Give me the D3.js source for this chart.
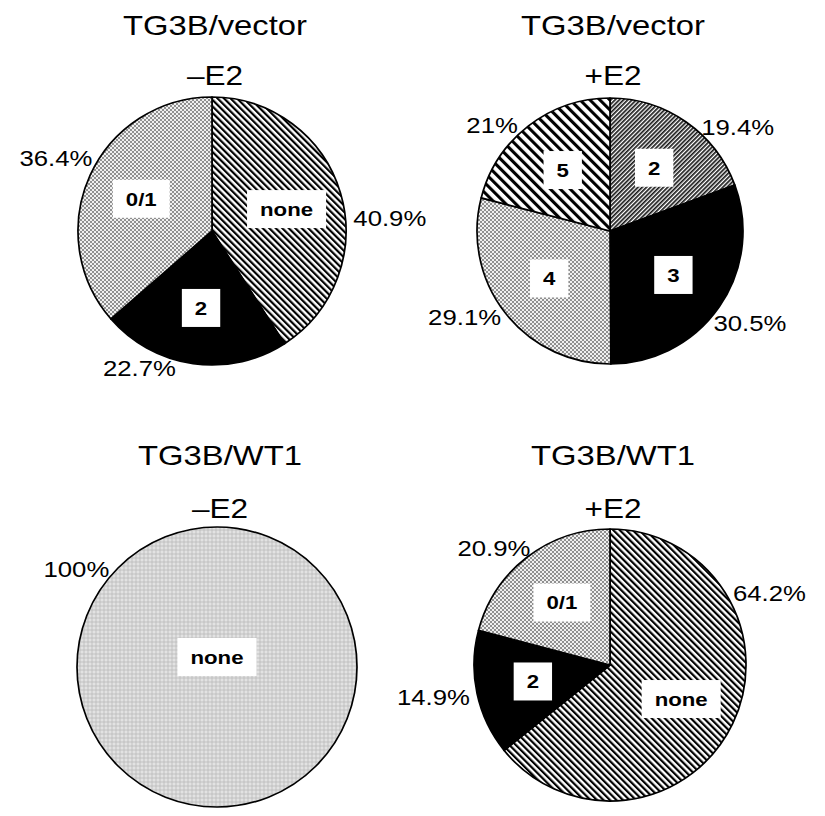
<!DOCTYPE html>
<html lang="en">
<head>
    <meta charset="UTF-8">
    <title>TG3B pie charts</title>
    <script src="https://d3js.org/d3.v7.min.js"></script>
    <style>
        body { margin: 0; background: #fff; font-family: Arial, "Liberation Sans", sans-serif; }
        svg { display: block; }
    </style>
</head>
<body>
<div id="chart"></div>
<script>
    // chart values
    const panelTitles = ["TG3B/vector", "TG3B/vector", "TG3B/WT1", "TG3B/WT1"];
    const panelConditions = ["\u2013E2", "+E2", "\u2013E2", "+E2"];
    const sliceCategories = [
        ["none", "2", "0/1"],
        ["2", "3", "4", "5"],
        ["none"],
        ["none", "2", "0/1"]
    ];
    const sliceValues = [
        [40.9, 22.7, 36.4],
        [19.4, 30.5, 29.1, 21],
        [100],
        [64.2, 14.9, 20.9]
    ];

    // look of each slice (pattern id)
    const sliceFills = [
        ["stripes", "solid", "dots"],
        ["hatch", "solid", "dots", "wide"],
        ["grey"],
        ["stripes", "solid", "dots"]
    ];

    // layout: pie centre / radius, and angle (deg, clockwise from top) of each % label
    const panels = [
        {cx: 212, cy: 231, r: 134, titleY: 35, condY: 85},
        {cx: 610, cy: 231, r: 133, titleY: 35, condY: 85},
        {cx: 217, cy: 667, r: 140, titleY: 465, condY: 518},
        {cx: 610, cy: 665, r: 136, titleY: 465, condY: 518}
    ];
    const labelAngles = [[85, 204, 299], [46, 128, 235, 315], [309], [62, 258, 320]];

    const width = 825, height = 816;
    const stretch = 1.17;   // the text in the figure is a bit wide

    const svg = d3.select("#chart").append("svg")
        .attr("width", width).attr("height", height);
    svg.append("rect").attr("width", width).attr("height", height).attr("fill", "#fff");

    // patterns
    const defs = svg.append("defs");
    function stripes(id, period, lineW, angle, color) {
        const p = defs.append("pattern").attr("id", id)
            .attr("patternUnits", "userSpaceOnUse")
            .attr("width", period).attr("height", period)
            .attr("patternTransform", `rotate(${angle})`);
        p.append("rect").attr("width", period).attr("height", period).attr("fill", "#fff");
        p.append("rect").attr("width", lineW).attr("height", period).attr("fill", color);
    }
    stripes("stripes", 4.6, 2.2, -45, "#000");
    stripes("wide", 7, 3.1, -45, "#000");
    stripes("hatch", 3, 1.7, 45, "#1a1a1a");

    const dots = defs.append("pattern").attr("id", "dots")
        .attr("patternUnits", "userSpaceOnUse").attr("width", 4).attr("height", 4);
    dots.append("rect").attr("width", 4).attr("height", 4).attr("fill", "#f0f0f0");
    dots.append("rect").attr("width", 2).attr("height", 2).attr("fill", "#909090");
    dots.append("rect").attr("x", 2).attr("y", 2).attr("width", 2).attr("height", 2).attr("fill", "#909090");

    const grey = defs.append("pattern").attr("id", "grey")
        .attr("patternUnits", "userSpaceOnUse").attr("width", 4).attr("height", 4);
    grey.append("rect").attr("width", 4).attr("height", 4).attr("fill", "#d2d2d2");
    grey.append("rect").attr("width", 2).attr("height", 2).attr("fill", "#e2e2e2");
    grey.append("rect").attr("x", 2).attr("y", 2).attr("width", 2).attr("height", 2).attr("fill", "#c8c8c8");

    function fillFor(name) {
        return name === "solid" ? "#000" : `url(#${name})`;
    }

    const pie = d3.pie().sort(null).value(d => d.value);

    panels.forEach((pn, i) => {
        const data = sliceCategories[i].map((c, j) => ({
            cat: c, value: sliceValues[i][j], fill: sliceFills[i][j], la: labelAngles[i][j]
        }));
        const arcs = pie(data);
        const arc = d3.arc().innerRadius(0).outerRadius(pn.r);
        const inner = d3.arc().innerRadius(pn.r * 0.58).outerRadius(pn.r * 0.58);

        const g = svg.append("g").attr("transform", `translate(${pn.cx},${pn.cy})`);

        g.selectAll("path.slice").data(arcs).enter().append("path")
            .attr("class", "slice")
            .attr("d", arc)
            .attr("fill", d => fillFor(d.data.fill))
            .attr("stroke", "#000")
            .attr("stroke-width", 1.7)
            .attr("stroke-linejoin", "round");

        // titles
        svg.append("text")
            .attr("transform", `translate(${pn.cx + 3},${pn.titleY}) scale(${stretch},1)`)
            .attr("text-anchor", "middle")
            .attr("font-size", 28)
            .attr("fill", "#000")
            .text(panelTitles[i]);
        svg.append("text")
            .attr("transform", `translate(${pn.cx + 3},${pn.condY}) scale(${stretch},1)`)
            .attr("text-anchor", "middle")
            .attr("font-size", 27)
            .attr("fill", "#000")
            .text(panelConditions[i]);

        // category boxes inside slices
        arcs.forEach(d => {
            const full = d.endAngle - d.startAngle > 2 * Math.PI - 1e-6;
            const [x, y] = full ? [0, -10] : inner.centroid(d);
            const lg = g.append("g").attr("transform", `translate(${x},${y})`);
            const t = lg.append("text")
                .attr("transform", `scale(${stretch},1)`)
                .attr("text-anchor", "middle")
                .attr("y", 19 * 0.36)
                .attr("font-size", 19)
                .attr("font-weight", "bold")
                .attr("fill", "#000")
                .text(d.data.cat);
            const w = t.node().getComputedTextLength() * stretch;
            lg.insert("rect", "text")
                .attr("x", -w / 2 - 13).attr("y", -19)
                .attr("width", w + 26).attr("height", 38)
                .attr("fill", "#fff");
        });

        // percentage labels around the pie
        arcs.forEach(d => {
            const a = d.data.la * Math.PI / 180;
            const R = pn.r + 8;
            const fs = 22;
            const t = g.append("text")
                .attr("text-anchor", "middle")
                .attr("font-size", fs)
                .attr("fill", "#000")
                .text(d.data.value + "%");
            const w = t.node().getComputedTextLength() * stretch;
            const h = fs * 0.75;
            const cx = R * Math.sin(a) + Math.sin(a) * w / 2;
            const cy = -R * Math.cos(a) - Math.cos(a) * h / 2;
            t.attr("transform", `translate(${cx},${cy + fs * 0.36}) scale(${stretch},1)`);
        });
    });
</script>
</body>
</html>
